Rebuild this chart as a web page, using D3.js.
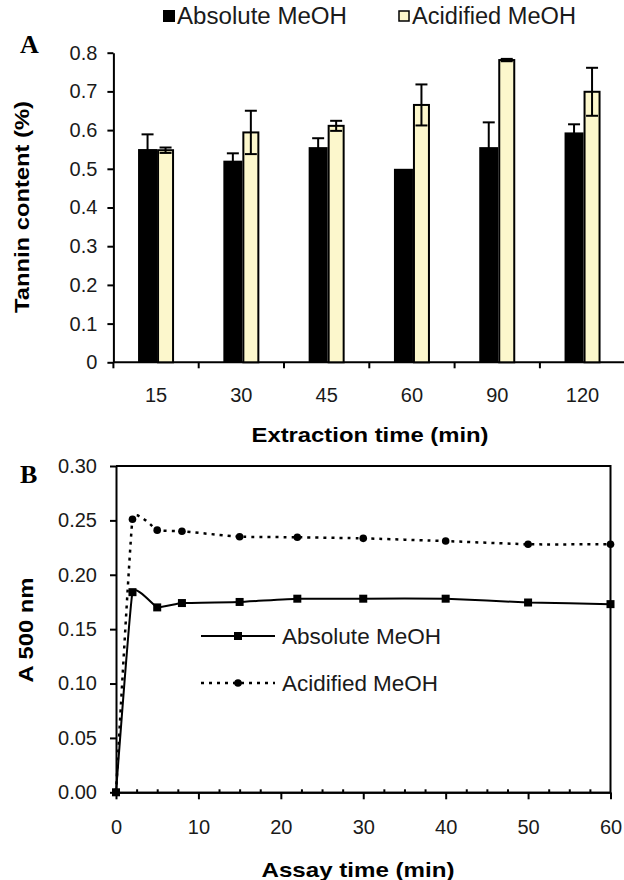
<!DOCTYPE html>
<html lang="en">
	<head>
		<meta charset="utf-8">
		<title>Tannin content</title>
		<script src="https://cdn.jsdelivr.net/npm/d3@7"></script>
		<style type="text/css">
			body { margin: 0; background: #fff; }
		</style>
	</head>
	<body>
	<script>

		// panel A data
		var extraction = ["15", "30", "45", "60", "90", "120"];
		var absMean = [0.551, 0.521, 0.556, 0.500, 0.556, 0.594];
		var absErr  = [0.038, 0.019, 0.023, 0.000, 0.064, 0.021];
		var acidMean = [0.548, 0.594, 0.611, 0.665, 0.781, 0.699];
		var acidErr  = [0.007, 0.056, 0.013, 0.053, 0.003, 0.062];
		var yTicksA = [0, 0.1, 0.2, 0.3, 0.4, 0.5, 0.6, 0.7, 0.8];

		// panel B data
		var assayTime = [0, 2, 5, 8, 15, 22, 30, 40, 50, 60];
		var absB  = [0, 0.184, 0.170, 0.174, 0.175, 0.178, 0.178, 0.178, 0.1745, 0.173];
		var acidB = [0, 0.251, 0.241, 0.240, 0.235, 0.2345, 0.2335, 0.231, 0.228, 0.228];
		var xTicksB = [0, 10, 20, 30, 40, 50, 60];
		var yTicksB = [0, 0.05, 0.10, 0.15, 0.20, 0.25, 0.30];

		var seriesNames = ["Absolute MeOH", "Acidified MeOH"];
		var cream = "#fcf7cc";
		var sans = "'Liberation Sans', Arial, sans-serif";
		var serif = "'Liberation Serif', 'Times New Roman', serif";

		var w = 624, h = 880;
		var svg = d3.select("body").append("svg")
			.attr("width", w).attr("height", h)
			.attr("font-family", sans);
		svg.append("rect").attr("width", w).attr("height", h).attr("fill", "#fff");

		/* ---------- Panel A ---------- */
		var xA = d3.scaleBand().domain(extraction).range([113.4, 625.2]);
		var yA = d3.scaleLinear().domain([0, 0.8]).range([362.3, 52.7]);

		var gA = svg.append("g");

		// y axis
		gA.append("g")
			.attr("transform", "translate(113.4,0)")
			.call(d3.axisLeft(yA).tickValues(yTicksA).tickSize(6).tickSizeOuter(0).tickPadding(10)
				.tickFormat(function(d){ return d === 0 ? "0" : d3.format(".1f")(d); }))
			.call(styleAxis);

		// x axis line + boundary ticks
		gA.append("line")
			.attr("x1", 113.4).attr("x2", 625.2)
			.attr("y1", yA(0)).attr("y2", yA(0))
			.attr("stroke", "#000").attr("stroke-width", 2);
		gA.selectAll(".bt")
			.data(extraction)
			.enter().append("line")
			.attr("x1", function(d){ return xA(d); })
			.attr("x2", function(d){ return xA(d); })
			.attr("y1", yA(0)).attr("y2", yA(0) + 6)
			.attr("stroke", "#000").attr("stroke-width", 2);
		gA.append("g")
			.attr("transform", "translate(0," + yA(0) + ")")
			.call(d3.axisBottom(xA).tickSize(0).tickPadding(26))
			.call(styleAxis)
			.select(".domain").remove();

		var bw = xA.bandwidth();
		// black bars
		gA.selectAll(".absbar")
			.data(extraction)
			.enter().append("rect")
			.attr("x", function(d){ return xA(d) + bw / 2 - 18; })
			.attr("width", 19)
			.attr("y", function(d, i){ return yA(absMean[i]); })
			.attr("height", function(d, i){ return yA(0) - yA(absMean[i]); })
			.attr("fill", "#000");
		// acidified bars
		gA.selectAll(".acidbar")
			.data(extraction)
			.enter().append("rect")
			.attr("x", function(d){ return xA(d) + bw / 2 + 2; })
			.attr("width", 15)
			.attr("y", function(d, i){ return yA(acidMean[i]); })
			.attr("height", function(d, i){ return yA(0) - yA(acidMean[i]); })
			.attr("fill", cream).attr("stroke", "#000").attr("stroke-width", 2);

		function errorBars(means, errs, cx) {
			var g = gA.append("g").attr("stroke", "#000").attr("stroke-width", 2);
			extraction.forEach(function(c, i){
				if (errs[i] <= 0) return;
				var x = cx(c), top = yA(means[i] + errs[i]), bot = yA(means[i] - errs[i]);
				g.append("line").attr("x1", x).attr("x2", x).attr("y1", top).attr("y2", bot);
				g.append("line").attr("x1", x - 6).attr("x2", x + 6).attr("y1", top).attr("y2", top);
				g.append("line").attr("x1", x - 6).attr("x2", x + 6).attr("y1", bot).attr("y2", bot);
			});
		}
		errorBars(absMean, absErr, function(c){ return xA(c) + bw / 2 - 8.5; });
		errorBars(acidMean, acidErr, function(c){ return xA(c) + bw / 2 + 9.5; });

		// legend A
		svg.append("rect").attr("x", 163).attr("y", 10).attr("width", 12).attr("height", 12).attr("fill", "#000");
		svg.append("text").attr("x", 177).attr("y", 24).attr("font-size", 23).attr("fill", "#1a1a1a")
			.attr("textLength", 170).attr("lengthAdjust", "spacingAndGlyphs").text(seriesNames[0]);
		svg.append("rect").attr("x", 399).attr("y", 11).attr("width", 10).attr("height", 10)
			.attr("fill", cream).attr("stroke", "#000").attr("stroke-width", 1.5);
		svg.append("text").attr("x", 412).attr("y", 24).attr("font-size", 23).attr("fill", "#1a1a1a")
			.attr("textLength", 164).attr("lengthAdjust", "spacingAndGlyphs").text(seriesNames[1]);

		// titles A
		svg.append("text").attr("x", 20).attr("y", 53)
			.attr("font-family", serif)
			.attr("font-weight", "bold").attr("font-size", 26).text("A");
		svg.append("text")
			.attr("transform", "translate(29,207) rotate(-90)")
			.attr("text-anchor", "middle").attr("font-weight", "bold").attr("font-size", 21)
			.attr("textLength", 212).attr("lengthAdjust", "spacingAndGlyphs")
			.text("Tannin content (%)");
		svg.append("text").attr("x", 370).attr("y", 442)
			.attr("text-anchor", "middle").attr("font-weight", "bold").attr("font-size", 21)
			.attr("textLength", 237).attr("lengthAdjust", "spacingAndGlyphs")
			.text("Extraction time (min)");

		/* ---------- Panel B ---------- */
		var xB = d3.scaleLinear().domain([0, 60]).range([116, 610.5]);
		var yB = d3.scaleLinear().domain([0, 0.30]).range([792.3, 466]);
		var gB = svg.append("g");

		gB.append("g")
			.attr("transform", "translate(116,0)")
			.call(d3.axisLeft(yB).tickValues(yTicksB).tickSize(6).tickSizeOuter(0).tickPadding(13)
				.tickFormat(d3.format(".2f")))
			.call(styleAxis);

		var minor = d3.range(0, 60.01, 2.5).filter(function(d){ return d % 10 !== 0; });
		gB.append("g")
			.attr("transform", "translate(0," + yB(0) + ")")
			.call(d3.axisBottom(xB).tickValues(minor).tickSize(-3).tickSizeOuter(0).tickFormat(""))
			.call(styleAxis);
		gB.append("g")
			.attr("transform", "translate(0," + yB(0) + ")")
			.call(d3.axisBottom(xB).tickValues(xTicksB).tickSize(7).tickSizeOuter(0).tickPadding(21))
			.call(styleAxis);

		// frame top and right
		gB.append("path")
			.attr("d", "M" + xB(0) + "," + yB(0.30) + "H" + xB(60) + "V" + yB(0))
			.attr("fill", "none").attr("stroke", "#000").attr("stroke-width", 2);

		var line = function(vals){
			return d3.line()
				.x(function(d, i){ return xB(assayTime[i]); })
				.y(function(d){ return yB(d); })
				.curve(d3.curveCardinal.tension(0.7))(vals);
		};
		gB.append("path").attr("d", line(acidB))
			.attr("fill", "none").attr("stroke", "#000").attr("stroke-width", 2.5)
			.attr("stroke-dasharray", "3,5");
		gB.append("path").attr("d", line(absB))
			.attr("fill", "none").attr("stroke", "#000").attr("stroke-width", 2);

		gB.selectAll(".sq")
			.data(absB).enter().append("rect")
			.attr("x", function(d, i){ return xB(assayTime[i]) - 4; })
			.attr("y", function(d){ return yB(d) - 4; })
			.attr("width", 8).attr("height", 8).attr("fill", "#000");
		gB.selectAll(".dot")
			.data(acidB).enter().append("circle")
			.attr("cx", function(d, i){ return xB(assayTime[i]); })
			.attr("cy", function(d){ return yB(d); })
			.attr("r", 3.8).attr("fill", "#000");

		// legend B
		svg.append("line").attr("x1", 201).attr("x2", 275).attr("y1", 636).attr("y2", 636)
			.attr("stroke", "#000").attr("stroke-width", 2);
		svg.append("rect").attr("x", 234).attr("y", 632).attr("width", 8).attr("height", 8).attr("fill", "#000");
		svg.append("text").attr("x", 282).attr("y", 644).attr("font-size", 22).attr("fill", "#1a1a1a")
			.attr("textLength", 159).attr("lengthAdjust", "spacingAndGlyphs").text(seriesNames[0]);
		svg.append("line").attr("x1", 201).attr("x2", 275).attr("y1", 683).attr("y2", 683)
			.attr("stroke", "#000").attr("stroke-width", 2.5).attr("stroke-dasharray", "3,5");
		svg.append("circle").attr("cx", 238).attr("cy", 683).attr("r", 3.8).attr("fill", "#000");
		svg.append("text").attr("x", 282).attr("y", 691).attr("font-size", 22).attr("fill", "#1a1a1a")
			.attr("textLength", 156).attr("lengthAdjust", "spacingAndGlyphs").text(seriesNames[1]);

		// titles B
		svg.append("text").attr("x", 20).attr("y", 483)
			.attr("font-family", serif)
			.attr("font-weight", "bold").attr("font-size", 26).text("B");
		svg.append("text")
			.attr("transform", "translate(33,630) rotate(-90)")
			.attr("text-anchor", "middle").attr("font-weight", "bold").attr("font-size", 21)
			.attr("textLength", 105).attr("lengthAdjust", "spacingAndGlyphs")
			.text("A 500 nm");
		svg.append("text").attr("x", 358).attr("y", 877)
			.attr("text-anchor", "middle").attr("font-weight", "bold").attr("font-size", 21)
			.attr("textLength", 193).attr("lengthAdjust", "spacingAndGlyphs")
			.text("Assay time (min)");

		function styleAxis(g) {
			g.selectAll(".domain").attr("stroke", "#000").attr("stroke-width", 2);
			g.selectAll(".tick line").attr("stroke", "#000").attr("stroke-width", 2);
			g.selectAll(".tick text")
				.attr("font-family", sans)
				.attr("font-size", 20).attr("fill", "#1a1a1a");
		}

	</script>
	</body>
</html>
